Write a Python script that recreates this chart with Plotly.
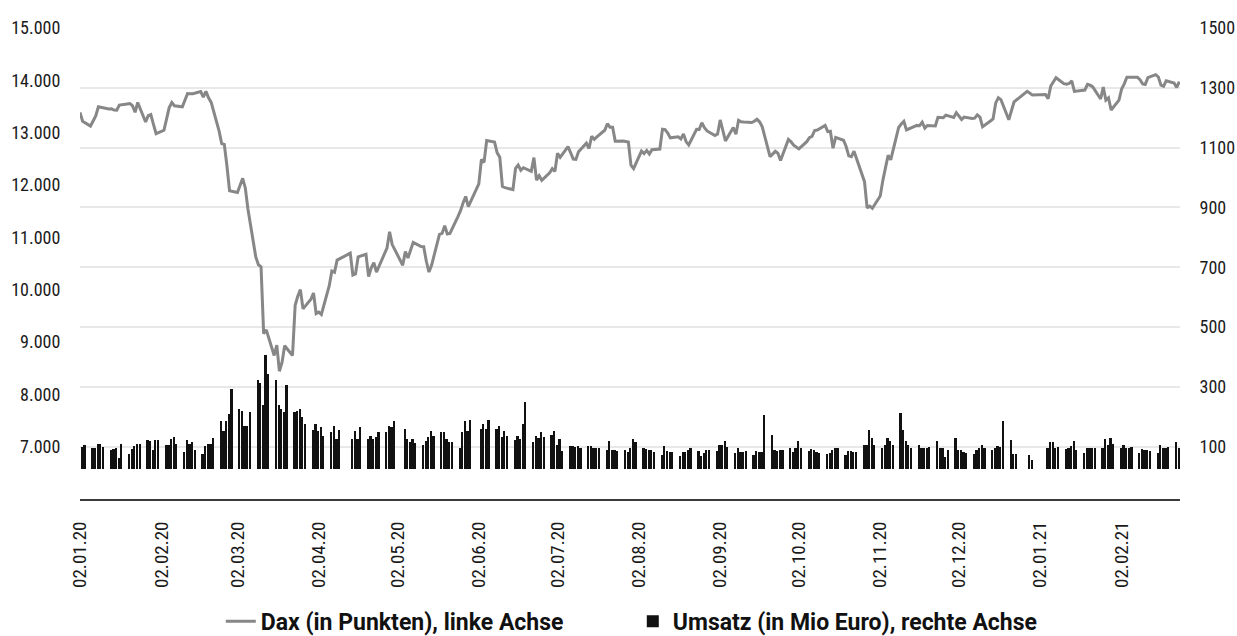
import pandas as pd
import plotly.graph_objects as go

# Weeks (Mon..Fri) starting Monday 2019-12-30; None = no trading / no value
week_start = "2019-12-30"

dax_weeks = [
    [None, None, None, 13385, 13219],
    [13127, 13227, 13321, 13495, 13483],
    [13452, 13456, 13432, 13430, 13526],
    [13549, 13556, 13515, 13389, 13577],
    [13205, 13324, 13345, 13158, 12982],
    [13046, 13284, 13479, 13575, 13514],
    [13494, 13628, 13749, 13745, 13744],
    [13784, 13681, 13789, 13665, 13579],
    [13035, 12790, 12774, 12367, 11890],
    [11857, 11985, 12128, 11944, 11542],
    [10625, 10475, 10439, 9161, 9232],
    [8742, 8939, 8442, 8610, 8929],
    [8742, 9701, 9874, 10000, 9633],
    [9816, 9936, 9544, 9571, 9525],
    [10075, 10357, 10333, 10565, None],
    [None, 10697, 10280, 10301, 10626],
    [10676, 10250, 10416, 10514, 10337],
    [10659, 10796, 11107, 10862, None],
    [10467, 10730, 10606, 10760, 10904],
    [10824, 10820, 10542, 10337, 10465],
    [11058, 11075, 11223, 11065, 11074],
    [11391, 11504, 11657, 11781, 11587],
    [None, 12021, 12487, 12431, 12848],
    [12820, 12615, 12530, 11970, 11949],
    [11911, 12316, 12382, 12281, 12331],
    [12262, 12523, 12093, 12177, 12089],
    [12232, 12311, 12260, 12608, 12528],
    [12734, 12616, 12495, 12489, 12633],
    [12800, 12697, 12931, 12874, 12920],
    [13046, 13171, 13104, 13103, 12838],
    [12839, 12836, 12822, 12380, 12313],
    [12647, 12600, 12661, 12591, 12674],
    [12687, 13067, 13058, 12994, 12901],
    [12920, 12881, 12977, 12830, 12765],
    [13066, 13062, 13190, 13096, 13033],
    [12945, 12974, 13243, 13057, 12843],
    [13100, 12968, 13237, 13209, 13203],
    [13194, 13218, 13255, 13208, 13116],
    [12542, 12595, 12643, 12606, 12469],
    [12871, 12826, 12761, 12731, 12689],
    [12828, 12906, 12928, 13042, 13051],
    [13138, 13019, 13028, 12704, 12909],
    [12855, 12736, 12558, 12543, 12646],
    [12178, 12064, 11561, 11598, 11556],
    [11789, 12089, 12325, 12568, 12480],
    [13096, 13164, 13217, 13053, 13077],
    [13139, 13133, 13201, 13087, 13137],
    [13127, 13292, 13289, 13286, 13336],
    [13291, 13382, 13313, 13253, 13299],
    [13271, 13278, 13340, 13296, 13114],
    [13223, 13263, 13565, 13668, 13631],
    [13246, 13418, 13587, None, None],
    [13790, 13761, 13719, None, None],
    [13727, 13651, 13892, 13968, 14050],
    [13937, 13925, 13940, 13989, 13788],
    [13816, 13815, 13922, 13907, 13874],
    [13643, 13871, 13621, 13665, 13433],
    [13622, 13835, 13933, 14060, 14057],
    [14060, 14011, 13932, 13921, 14050],
    [14109, 14064, 13909, 13887, 13993],
    [13950, 13865, 13976, None, None],
]

umsatz_weeks = [
    [None, None, None, 99, 107],
    [95, 95, 109, 109, 99],
    [90, 93, 95, 62, 109],
    [75, 92, 101, 109, 109],
    [123, 118, 88, 123, 123],
    [107, 107, 127, 134, 110],
    [81, 123, 110, 116, 88],
    [76, 101, 109, 109, 129],
    [185, 151, 185, 210, 293],
    [226, 218, 170, 170, 216],
    [324, 313, 238, 407, 343],
    [324, 238, 227, 215, 305],
    [216, 220, 226, 200, 176],
    [157, 176, 151, 166, 137],
    [148, 170, 127, 157, None],
    [None, 127, 151, 127, 166],
    [127, 137, 127, 134, 148],
    [148, 170, 166, 185, None],
    [160, 127, 115, 127, 112],
    [107, 118, 132, 151, 137],
    [148, 148, 126, 114, 116],
    [95, 148, 185, 151, 190],
    [None, 159, 176, 159, 190],
    [159, 170, 132, 154, 137],
    [121, 137, 126, 177, 251],
    [116, 137, 129, 148, 132],
    [140, 151, 107, 126, 84],
    [101, 101, 99, 101, 95],
    [101, 101, 95, 95, 95],
    [88, 118, 90, 88, 84],
    [88, 81, 95, 126, 114],
    [95, 92, 90, 90, 81],
    [73, 101, 84, 81, 81],
    [68, 81, 81, 88, 95],
    [84, 68, 79, 88, 88],
    [84, 107, 107, 118, 100],
    [79, 95, 81, 81, 85],
    [73, 85, 81, 81, 207],
    [140, 90, 84, 88, 90],
    [95, 81, 95, 118, 95],
    [84, 92, 88, 81, 79],
    [77, 79, 88, 95, 95],
    [73, 84, 84, 81, 81],
    [107, 107, 157, 129, 107],
    [95, 107, 129, 118, 107],
    [212, 157, 118, 107, 95],
    [107, 95, 95, 95, 99],
    [118, 95, 95, 65, 90],
    [129, 88, 88, 81, 79],
    [77, 90, 95, 107, 95],
    [88, 95, 101, 98, 185],
    [121, 77, 77, None, None],
    [73, 56, None, None, None],
    [95, 114, 114, 95, 100],
    [92, 95, 103, 118, 90],
    [79, 95, 95, 95, 95],
    [95, 126, 107, 129, 110],
    [95, 107, 95, 95, 100],
    [79, 92, 88, 90, 85],
    [79, 107, 95, 95, 100],
    [114, 95, 105, None, None],
]

x_tick_labels = ["02.01.20", "02.02.20", "02.03.20", "02.04.20", "02.05.20",
                 "02.06.20", "02.07.20", "02.08.20", "02.09.20", "02.10.20",
                 "02.11.20", "02.12.20", "02.01.21", "02.02.21"]
left_ticks = [7000, 8000, 9000, 10000, 11000, 12000, 13000, 14000, 15000]
right_ticks = [100, 300, 500, 700, 900, 1100, 1300, 1500]

name_dax = "Dax (in Punkten), linke Achse"
name_ums = "Umsatz (in Mio Euro), rechte Achse"


def flatten(weeks):
    start = pd.Timestamp(week_start)
    dates, vals = [], []
    for w, row in enumerate(weeks):
        for d, v in enumerate(row):
            if v is not None:
                dates.append(start + pd.Timedelta(days=7 * w + d))
                vals.append(v)
    return dates, vals


dax_dates, dax_vals = flatten(dax_weeks)
ums_dates, ums_vals = flatten(umsatz_weeks)
bar_base = 25
tickvals = [pd.to_datetime(t, format="%d.%m.%y") for t in x_tick_labels]

FONT = "Liberation Sans Narrow, Roboto Condensed, DejaVu Sans Condensed, Arial Narrow, sans-serif"
LEGEND_FONT = "Roboto, Liberation Sans, sans-serif"
DAY = 86400000

fig = go.Figure()
fig.add_trace(go.Bar(
    x=ums_dates, y=[v - bar_base for v in ums_vals], base=bar_base,
    name=name_ums, marker=dict(color="#111111", line=dict(width=0)),
    width=0.85 * DAY, offset=0.3 * DAY, yaxis="y", legendrank=2,
))
fig.add_trace(go.Scatter(
    x=dax_dates, y=dax_vals, mode="lines", name=name_dax,
    line=dict(color="#878787", width=3), yaxis="y2", legendrank=1,
))

fig.update_layout(
    width=1237, height=636,
    margin=dict(l=80, r=57, t=28, b=137, autoexpand=False),
    paper_bgcolor="white", plot_bgcolor="white",
    separators=",.",
    font=dict(family=FONT, size=18, color="#1a1a1a"),
    showlegend=True,
    legend=dict(orientation="h", x=0.128, xanchor="left", y=-0.214, yanchor="top",
                font=dict(family=LEGEND_FONT, size=23, color="#111111", weight="bold"),
                entrywidth=367, entrywidthmode="pixels", itemwidth=30,
                traceorder="normal"),
    bargap=0,
    xaxis=dict(
        type="date", range=["2020-01-02", "2021-02-24 06:00"],
        tickvals=tickvals, ticktext=x_tick_labels, tickangle=-90,
        showgrid=False, zeroline=False, automargin=False,
        showline=True, linecolor="#3a3a3a", linewidth=2,
        ticks="outside", ticklen=13, tickcolor="rgba(0,0,0,0)",
        tickfont=dict(size=19),
    ),
    yaxis=dict(
        side="right", range=[-75, 1500], tickvals=right_ticks, automargin=False,
        tickformat="d", showgrid=True, gridcolor="#e8e8e8", gridwidth=1.5,
        zeroline=False, showline=False,
        ticks="outside", ticklen=15, tickcolor="rgba(0,0,0,0)",
    ),
    yaxis2=dict(
        overlaying="y", side="left", range=[6000, 15000], tickvals=left_ticks,
        automargin=False,
        tickformat=",d", showgrid=False, zeroline=False, showline=False,
        ticks="outside", ticklen=15, tickcolor="rgba(0,0,0,0)",
    ),
)

fig.write_html("out.html", config={"displayModeBar": False},
               post_script="document.body.style.margin='0';")
